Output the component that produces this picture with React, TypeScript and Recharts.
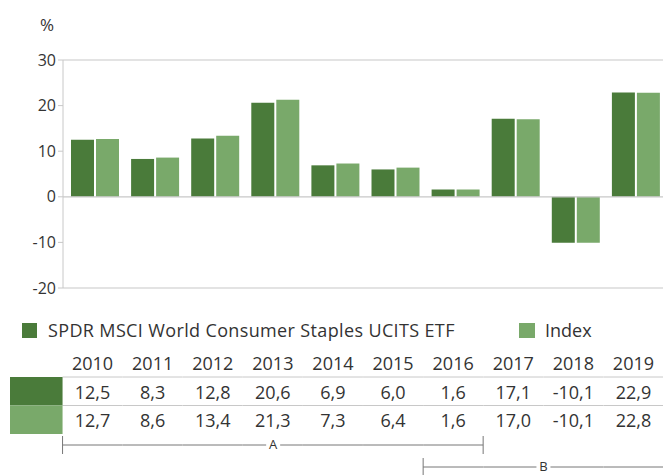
import React from "react";
import { BarChart, Bar, XAxis, YAxis, ReferenceLine } from "recharts";

// annual returns, %
const YEARS = ["2010", "2011", "2012", "2013", "2014", "2015", "2016", "2017", "2018", "2019"];
const ETF = [12.5, 8.3, 12.8, 20.6, 6.9, 6.0, 1.6, 17.1, -10.1, 22.9];
const INDEX = [12.7, 8.6, 13.4, 21.3, 7.3, 6.4, 1.6, 17.0, -10.1, 22.8];
const Y_TICKS = [-20, -10, 0, 10, 20, 30];
const FRAME_LINES = [30, 0, -20];
const BRACKETS = [
  { label: "A", from: 0, to: 6 },
  { label: "B", from: 6, to: 9 },
];

const ETF_NAME = "SPDR MSCI World Consumer Staples UCITS ETF";
const INDEX_NAME = "Index";

const DARK = "#4a7b3a";
const LIGHT = "#79a96a";
const GRID = "#c8c8c8";
const TEXT = "#333333";
const FONT = "'Open Sans', 'Noto Sans', sans-serif";

const data = YEARS.map((year, i) => ({ year, etf: ETF[i], index: INDEX[i] }));

const fmt = (v: number) => v.toFixed(1).replace(".", ",");

const COL = 60;

function TableTick(props: any) {
  const { x, payload } = props;
  const i: number = props.index ?? payload.index;
  const cx = x - 2.5;
  const left = cx - COL / 2;
  const right = cx + COL / 2;
  const last = YEARS.length - 1;

  return (
    <g>
      <text x={cx} y={369.5} textAnchor="middle" fontSize={18} fill={TEXT} fontFamily={FONT}>
        {YEARS[i]}
      </text>
      <line x1={left} x2={right} y1={377} y2={377} stroke={GRID} />
      <line x1={left} x2={right} y1={405.5} y2={405.5} stroke={GRID} />
      <text x={cx} y={398.5} textAnchor="middle" fontSize={18} fill={TEXT} fontFamily={FONT}>
        {fmt(ETF[i])}
      </text>
      <text x={cx} y={427} textAnchor="middle" fontSize={18} fill={TEXT} fontFamily={FONT}>
        {fmt(INDEX[i])}
      </text>
      {i === 0 && (
        <>
          <rect x={10} y={377} width={left - 10} height={28.5} fill={DARK} />
          <rect x={10} y={405.5} width={left - 10} height={28.5} fill={LIGHT} />
        </>
      )}
      {BRACKETS.map((b, k) => {
        if (i < b.from || i > b.to) return null;
        const y = 445 + k * 22;
        const labelX = right - ((b.to - b.from + 1) * COL) / 2;
        return (
          <g key={b.label}>
            <line x1={left} x2={right} y1={y} y2={y} stroke="#777" />
            {i === b.from && <line x1={left} x2={left} y1={y - 9} y2={y + 9} stroke="#777" />}
            {i === b.to && b.to < last && (
              <line x1={right} x2={right} y1={y - 9} y2={y + 9} stroke="#777" />
            )}
            {i === b.to && (
              <>
                <rect x={labelX - 7} y={y - 7} width={14} height={14} fill="#fff" />
                <text x={labelX} y={y + 4} textAnchor="middle" fontSize={13} fill={TEXT} fontFamily={FONT}>
                  {b.label}
                </text>
              </>
            )}
          </g>
        );
      })}
    </g>
  );
}

export default function App() {
  return (
    <div
      style={{
        position: "fixed",
        left: 0,
        top: 0,
        width: 663,
        height: 475,
        overflow: "hidden",
        background: "#fff",
        fontFamily: FONT,
        color: TEXT,
      }}
    >
      <div style={{ position: "absolute", left: 40, top: 13, fontSize: 17 }}>%</div>

      <div style={{ position: "absolute", left: 22, top: 318, display: "flex", alignItems: "center", fontSize: 18 }}>
        <span style={{ width: 15, height: 15, background: DARK, display: "inline-block", marginRight: 11 }} />
        <span style={{ letterSpacing: 0.36 }}>{ETF_NAME}</span>
      </div>
      <div style={{ position: "absolute", left: 519, top: 318, display: "flex", alignItems: "center", fontSize: 18 }}>
        <span style={{ width: 16, height: 15, background: LIGHT, display: "inline-block", marginRight: 10 }} />
        <span>{INDEX_NAME}</span>
      </div>

      <BarChart
        width={666}
        height={475}
        data={data}
        margin={{ top: 60, right: 0, bottom: 0, left: 0 }}
        barSize={23}
        barGap={2}
        style={{ position: "absolute", left: 0, top: 0 }}
      >
        {FRAME_LINES.map((v) => (
          <ReferenceLine key={v} y={v} stroke={GRID} strokeWidth={1.2} />
        ))}
        <XAxis
          dataKey="year"
          height={187}
          axisLine={false}
          tickLine={false}
          interval={0}
          padding={{ left: 2, right: 0 }}
          tick={(p: any) => <TableTick {...p} />}
        />
        <YAxis
          width={63}
          domain={[-20, 30]}
          ticks={Y_TICKS}
          interval={0}
          tickSize={5}
          axisLine={{ stroke: GRID }}
          tickLine={{ stroke: GRID }}
          tick={{ fontSize: 16, fill: TEXT, fontFamily: FONT }}
        />
        <Bar dataKey="etf" fill={DARK} isAnimationActive={false} />
        <Bar dataKey="index" fill={LIGHT} isAnimationActive={false} />
      </BarChart>
    </div>
  );
}
